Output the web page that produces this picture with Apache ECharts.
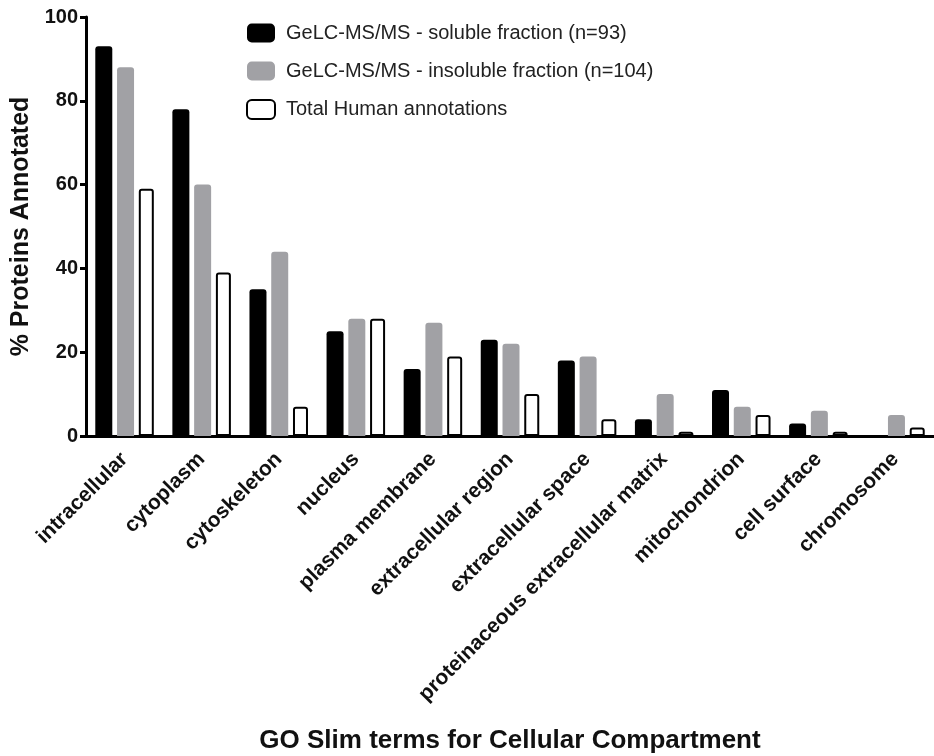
<!DOCTYPE html>
<html>
<head>
<meta charset="utf-8">
<script src="https://cdn.jsdelivr.net/npm/echarts@6/dist/echarts.min.js"></script>
<style>html,body{margin:0;padding:0;background:#fff;}#chart{width:934px;height:756px;}</style>
</head>
<body>
<div id="chart"></div>
<script>
var categories = ['intracellular','cytoplasm','cytoskeleton','nucleus','plasma membrane','extracellular region','extracellular space','proteinaceous extracellular matrix','mitochondrion','cell surface','chromosome'];
var solubleValues = [93, 78, 35, 25, 16, 23, 18, 4, 11, 3, 0];
var insolubleValues = [88, 60, 44, 28, 27, 22, 19, 10, 7, 6, 5];
var humanValues = [59, 39, 7, 28, 19, 10, 4, 1, 5, 1, 2];
var seriesNames = ['GeLC-MS/MS - soluble fraction (n=93)', 'GeLC-MS/MS - insoluble fraction (n=104)', 'Total Human annotations'];
var yTicks = [0, 20, 40, 60, 80, 100];

var FONT = '"Liberation Sans", Arial, Helvetica, sans-serif';
var chart = echarts.init(document.getElementById('chart'), null, {renderer: 'canvas'});
chart.setOption({
  backgroundColor: '#ffffff',
  animation: false,
  textStyle: {fontFamily: FONT},
  legend: {
    orient: 'vertical',
    left: 241,
    top: 18,
    itemWidth: 28,
    itemHeight: 19,
    itemGap: 18,
    icon: 'roundRect',
    textStyle: {fontFamily: FONT, fontSize: 20, color: '#222', padding: [0, 0, 0, 6]},
    data: seriesNames
  },
  grid: {left: 86, right: 0, top: 17, bottom: 320, containLabel: false, outerBoundsMode: 'none'},
  xAxis: {
    type: 'category',
    data: categories,
    name: 'GO Slim terms for Cellular Compartment',
    nameLocation: 'middle',
    nameGap: 292,
    nameTextStyle: {fontFamily: FONT, fontSize: 26, fontWeight: 'bold', color: '#111'},
    axisLine: {lineStyle: {color: '#000', width: 3}},
    axisTick: {alignWithLabel: true, length: 6, lineStyle: {color: '#000', width: 3}},
    axisLabel: {interval: 0, rotate: 45, margin: 20, fontFamily: FONT, fontSize: 21, fontWeight: 'bold', color: '#111'}
  },
  yAxis: {
    type: 'value',
    min: yTicks[0],
    max: yTicks[yTicks.length - 1],
    interval: 20,
    name: '% Proteins Annotated',
    nameLocation: 'middle',
    nameGap: 52,
    nameTextStyle: {fontFamily: FONT, fontSize: 25, fontWeight: 'bold', color: '#111'},
    axisLine: {show: true, lineStyle: {color: '#000', width: 3}},
    axisTick: {show: true, length: 6, lineStyle: {color: '#000', width: 3}},
    axisLabel: {margin: 8, fontFamily: FONT, fontSize: 20, fontWeight: 'bold', color: '#111'},
    splitLine: {show: false}
  },
  series: [
    {name: seriesNames[0], type: 'bar', data: solubleValues, barWidth: 17, barGap: '28%',
     itemStyle: {color: '#000000', borderRadius: [3, 3, 0, 0]}},
    {name: seriesNames[1], type: 'bar', data: insolubleValues, barWidth: 17, barGap: '28%',
     itemStyle: {color: '#a1a1a5', borderRadius: [3, 3, 0, 0]}},
    {name: seriesNames[2], type: 'bar', data: humanValues, barWidth: 15, barGap: '28%',
     itemStyle: {color: '#ffffff', borderColor: '#000', borderWidth: 2, borderRadius: [2, 2, 0, 0]}}
  ]
});
</script>
</body>
</html>
